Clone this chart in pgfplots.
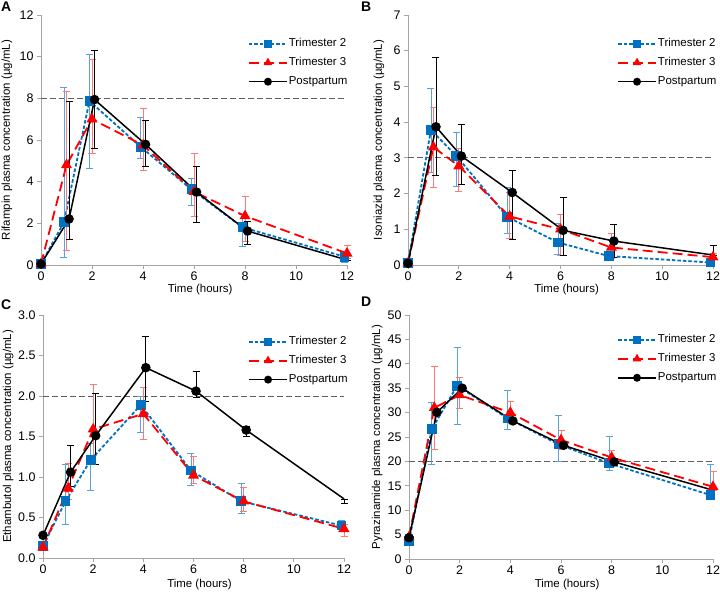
\documentclass[border=0pt]{standalone}
\usepackage{fontspec}
\setmainfont{Liberation Sans}
\usepackage{pgfplots}
\pgfplotsset{compat=1.18}
\definecolor{ctwo}{RGB}{0,112,192}
\definecolor{cthree}{RGB}{255,0,0}
\definecolor{ctwobar}{RGB}{90,160,220}
\definecolor{cthreebar}{RGB}{255,120,120}
\definecolor{axgray}{RGB}{165,165,165}
\definecolor{refgray}{RGB}{95,95,95}
\pgfplotsset{
  panel/.style={
    scale only axis,
    axis lines*=left,
    xmin=0, xmax=12, ymin=0,
    xtick={0,2,...,12},
    tick align=outside,
    major tick length=4bp,
    axis line style={axgray, line width=0.8bp},
    tick style={axgray, line width=0.8bp},
    ticklabel style={font=\fontsize{12.5}{14}\selectfont, text=black},
    xticklabel style={inner sep=3bp},
    /pgf/number format/assume math mode=true,
    label style={font=\fontsize{11.5}{13}\selectfont, inner sep=1bp},
    xlabel={Time (hours)},
    clip=false,
    legend cell align=left,
    legend style={draw=none, fill=none, font=\fontsize{11.5}{13}\selectfont,
      anchor=north west, inner sep=0pt, row sep=6bp,
      nodes={inner sep=1bp, text height=8.5bp, text depth=2.5bp, font=\fontsize{11.5}{13}\selectfont}},
    legend image code/.code={\draw[##1, mark size=3.2bp] (0bp,0bp) -- (38bp,0bp);
      \draw[##1, mark size=3.2bp, mark indices={}, draw=none] plot coordinates {(19bp,0bp)};},
  },
  t2/.style={ctwo, line width=1.8bp, dash pattern=on 3.5bp off 2bp,
    mark=square*, mark size=4bp, mark options={solid, fill=ctwo},
    error bars/.cd, y dir=both, y explicit,
    error bar style={solid, line width=0.7bp, ctwobar},
    error mark options={solid, line width=0.7bp, ctwobar, mark size=3.5bp, rotate=90}},
  t3/.style={cthree, line width=1.8bp, dash pattern=on 10bp off 5bp,
    mark=triangle*, mark size=4.6bp, mark options={solid, fill=cthree},
    error bars/.cd, y dir=both, y explicit,
    error bar style={solid, line width=0.7bp, cthreebar},
    error mark options={solid, line width=0.7bp, cthreebar, mark size=3.5bp, rotate=90}},
  pp/.style={black, line width=1.5bp, solid,
    mark=*, mark size=4bp, mark options={solid, fill=black}, mark indices={1,2,3,4,5,6},
    error bars/.cd, y dir=both, y explicit,
    error bar style={solid, line width=0.7bp, black},
    error mark options={solid, line width=0.7bp, black, mark size=3.5bp, rotate=90}},
  ppnb/.style={black, line width=1.5bp, solid,
    mark=*, mark size=4bp, mark options={solid, fill=black}, mark indices={1,2,3,4,5,6}},
  refline/.style={refgray, line width=0.9bp, dash pattern=on 6bp off 3bp, forget plot},
}
\begin{document}
\begin{tikzpicture}
\path[use as bounding box] (0,0) rectangle (720bp,592bp);

% ---------------- Panel A ----------------
\begin{axis}[panel, at={(41bp,327bp)}, anchor=south west, width=306bp, height=250bp,
  ymax=12, ytick={0,2,...,12},
  ylabel={Rifampin plasma concentration (µg/mL)},
  ylabel style={at={(axis description cs:-0.111,0.5)}, anchor=center, rotate=0},
  xlabel style={at={(axis description cs:0.52,-0.1)}, anchor=center},
  legend style={at={(axis description cs:0.676,0.912)}}]
\addplot[refline] coordinates {(0,8) (12,8)};
\addplot[t2] table[x=x,y=y,y error plus=ep,y error minus=em] {
x y ep em
0 0.05 0 0
0.9 2.05 6.5 1.7
1.9 7.87 2.24 3.23
3.9 5.68 1.39 0.58
5.9 3.63 0.53 0.77
7.9 1.81 0.6 0.9
11.9 0.40 0.2 0.25
};
\addplot[t3] table[x=x,y=y,y error plus=ep,y error minus=em] {
x y ep em
0 0.05 0 0
1 4.8 3.55 4.08
2 7.0 2.89 1.64
4 5.75 1.77 1.19
6 3.52 1.84 1.2
8 2.35 0.93 1.2
12 0.56 0.38 0.26
};
\addplot[pp] table[x=x,y=y,y error plus=ep,y error minus=em] {
x y ep em
0 0.05 0 0
1.1 2.21 5.66 0.98
2.1 7.94 2.38 2.34
4.1 5.79 1.17 1.04
6.1 3.5 1.25 1.45
8.1 1.63 0.45 0.63
12 0.24 0 0
};
\legend{Trimester 2, Trimester 3, Postpartum}
\end{axis}

% ---------------- Panel B ----------------
\begin{axis}[panel, at={(408bp,327bp)}, anchor=south west, width=305bp, height=250bp,
  ymax=7, ytick={0,1,...,7},
  ylabel={Isoniazid plasma concentration (µg/mL)},
  ylabel style={at={(axis description cs:-0.095,0.5)}, anchor=center},
  xlabel style={at={(axis description cs:0.52,-0.1)}, anchor=center},
  legend style={at={(axis description cs:0.685,0.912)}}]
\addplot[refline] coordinates {(0,3) (12,3)};
\addplot[t2] table[x=x,y=y,y error plus=ep,y error minus=em] {
x y ep em
0 0.05 0 0
0.9 3.78 1.17 1.19
1.9 3.06 0.65 0.87
3.9 1.35 0.83 0.46
5.9 0.63 0.54 0.32
7.9 0.25 0.08 0.08
11.9 0.07 0 0
};
\addplot[t3] table[x=x,y=y,y error plus=ep,y error minus=em] {
x y ep em
0 0.05 0 0
1 3.3 1.11 1.12
2 2.77 0.49 0.7
4 1.36 0.67 0.61
6 1.0 0.42 0.72
8 0.49 0.4 0.3
12 0.22 0.11 0.05
};
\addplot[pp] table[x=x,y=y,y error plus=ep,y error minus=em] {
x y ep em
0 0.05 0 0
1.1 3.87 1.94 1.36
2.1 3.05 0.88 0.79
4.1 2.03 0.61 1.31
6.1 0.97 0.93 0.7
8.1 0.67 0.46 0.46
12 0.28 0.28 0
};
\legend{Trimester 2, Trimester 3, Postpartum}
\end{axis}

% ---------------- Panel C ----------------
\begin{axis}[panel, at={(43bp,34bp)}, anchor=south west, width=301bp, height=243bp,
  ymax=3, ytick={0,0.5,...,3},
  yticklabel style={/pgf/number format/.cd, fixed, fixed zerofill, precision=1},
  ylabel={Ethambutol plasma concentration (µg/mL)},
  ylabel style={at={(axis description cs:-0.116,0.5)}, anchor=center},
  xlabel style={at={(axis description cs:0.52,-0.108)}, anchor=center},
  legend style={at={(axis description cs:0.681,0.918)}}]
\addplot[refline] coordinates {(0,2) (12,2)};
\addplot[t2] table[x=x,y=y,y error plus=ep,y error minus=em] {
x y ep em
0 0.15 0.03 0.03
0.9 0.70 0.45 0.28
1.9 1.21 0.21 0.37
3.9 1.89 0.11 0.34
5.9 1.08 0.21 0.18
7.9 0.70 0.22 0.15
11.9 0.40 0.06 0.07
};
\addplot[t3] table[x=x,y=y,y error plus=ep,y error minus=em] {
x y ep em
0 0.13 0 0
1 0.86 0.31 0.14
2 1.59 0.55 0.32
4 1.78 0.33 0.31
6 1.02 0.24 0.10
8 0.70 0.17 0.13
12 0.36 0.06 0.09
};
\addplot[pp] table[x=x,y=y,y error plus=ep,y error minus=em] {
x y ep em
0 0.28 0 0
1.1 1.06 0.33 0.18
2.1 1.51 0.52 0.35
4.1 2.35 0.39 0.42
6.1 2.06 0.24 0.08
8.1 1.58 0.04 0.08
12 0.73 0 0.05
};
\legend{Trimester 2, Trimester 3, Postpartum}
\end{axis}

% ---------------- Panel D ----------------
\begin{axis}[panel, at={(409bp,33bp)}, anchor=south west, width=304bp, height=244bp,
  ymax=50, ytick={0,5,...,50},
  ylabel={Pyrazinamide plasma concentration (µg/mL)},
  ylabel style={at={(axis description cs:-0.105,0.5)}, anchor=center},
  xlabel style={at={(axis description cs:0.52,-0.106)}, anchor=center},
  legend style={at={(axis description cs:0.684,0.926)}}]
\addplot[refline] coordinates {(0,20) (12,20)};
\addplot[t2] table[x=x,y=y,y error plus=ep,y error minus=em] {
x y ep em
0 3.76 0 0
0.9 26.6 5.5 7.3
1.9 35.5 7.9 7.9
3.9 28.8 5.7 2.3
5.9 23.5 6.0 3.4
7.9 19.6 5.6 1.5
11.9 13.1 6.2 0.5
};
\addplot[t3] table[x=x,y=y,y error plus=ep,y error minus=em] {
x y ep em
0 4.5 0 0
1 31.0 8.5 8.5
2 33.6 3.6 2.8
4 30.0 2.3 2.2
6 24.4 2.0 1.9
8 20.8 1.4 1.2
12 14.8 3.1 0.8
};
\addplot[ppnb] table[x=x,y=y] {
x y
0 4.37
1.1 30.05
2.1 35.0
4.1 28.3
6.1 23.3
8.1 19.9
12 14.1
};
\legend{Trimester 2, Trimester 3, Postpartum}
\end{axis}

% panel letters
\node[anchor=north west, inner sep=0pt, font=\bfseries\fontsize{14}{14}\selectfont] at (1bp,590bp) {A};
\node[anchor=north west, inner sep=0pt, font=\bfseries\fontsize{14}{14}\selectfont] at (361bp,590bp) {B};
\node[anchor=north west, inner sep=0pt, font=\bfseries\fontsize{14}{14}\selectfont] at (1bp,292bp) {C};
\node[anchor=north west, inner sep=0pt, font=\bfseries\fontsize{14}{14}\selectfont] at (361bp,295bp) {D};
\end{tikzpicture}
\end{document}
